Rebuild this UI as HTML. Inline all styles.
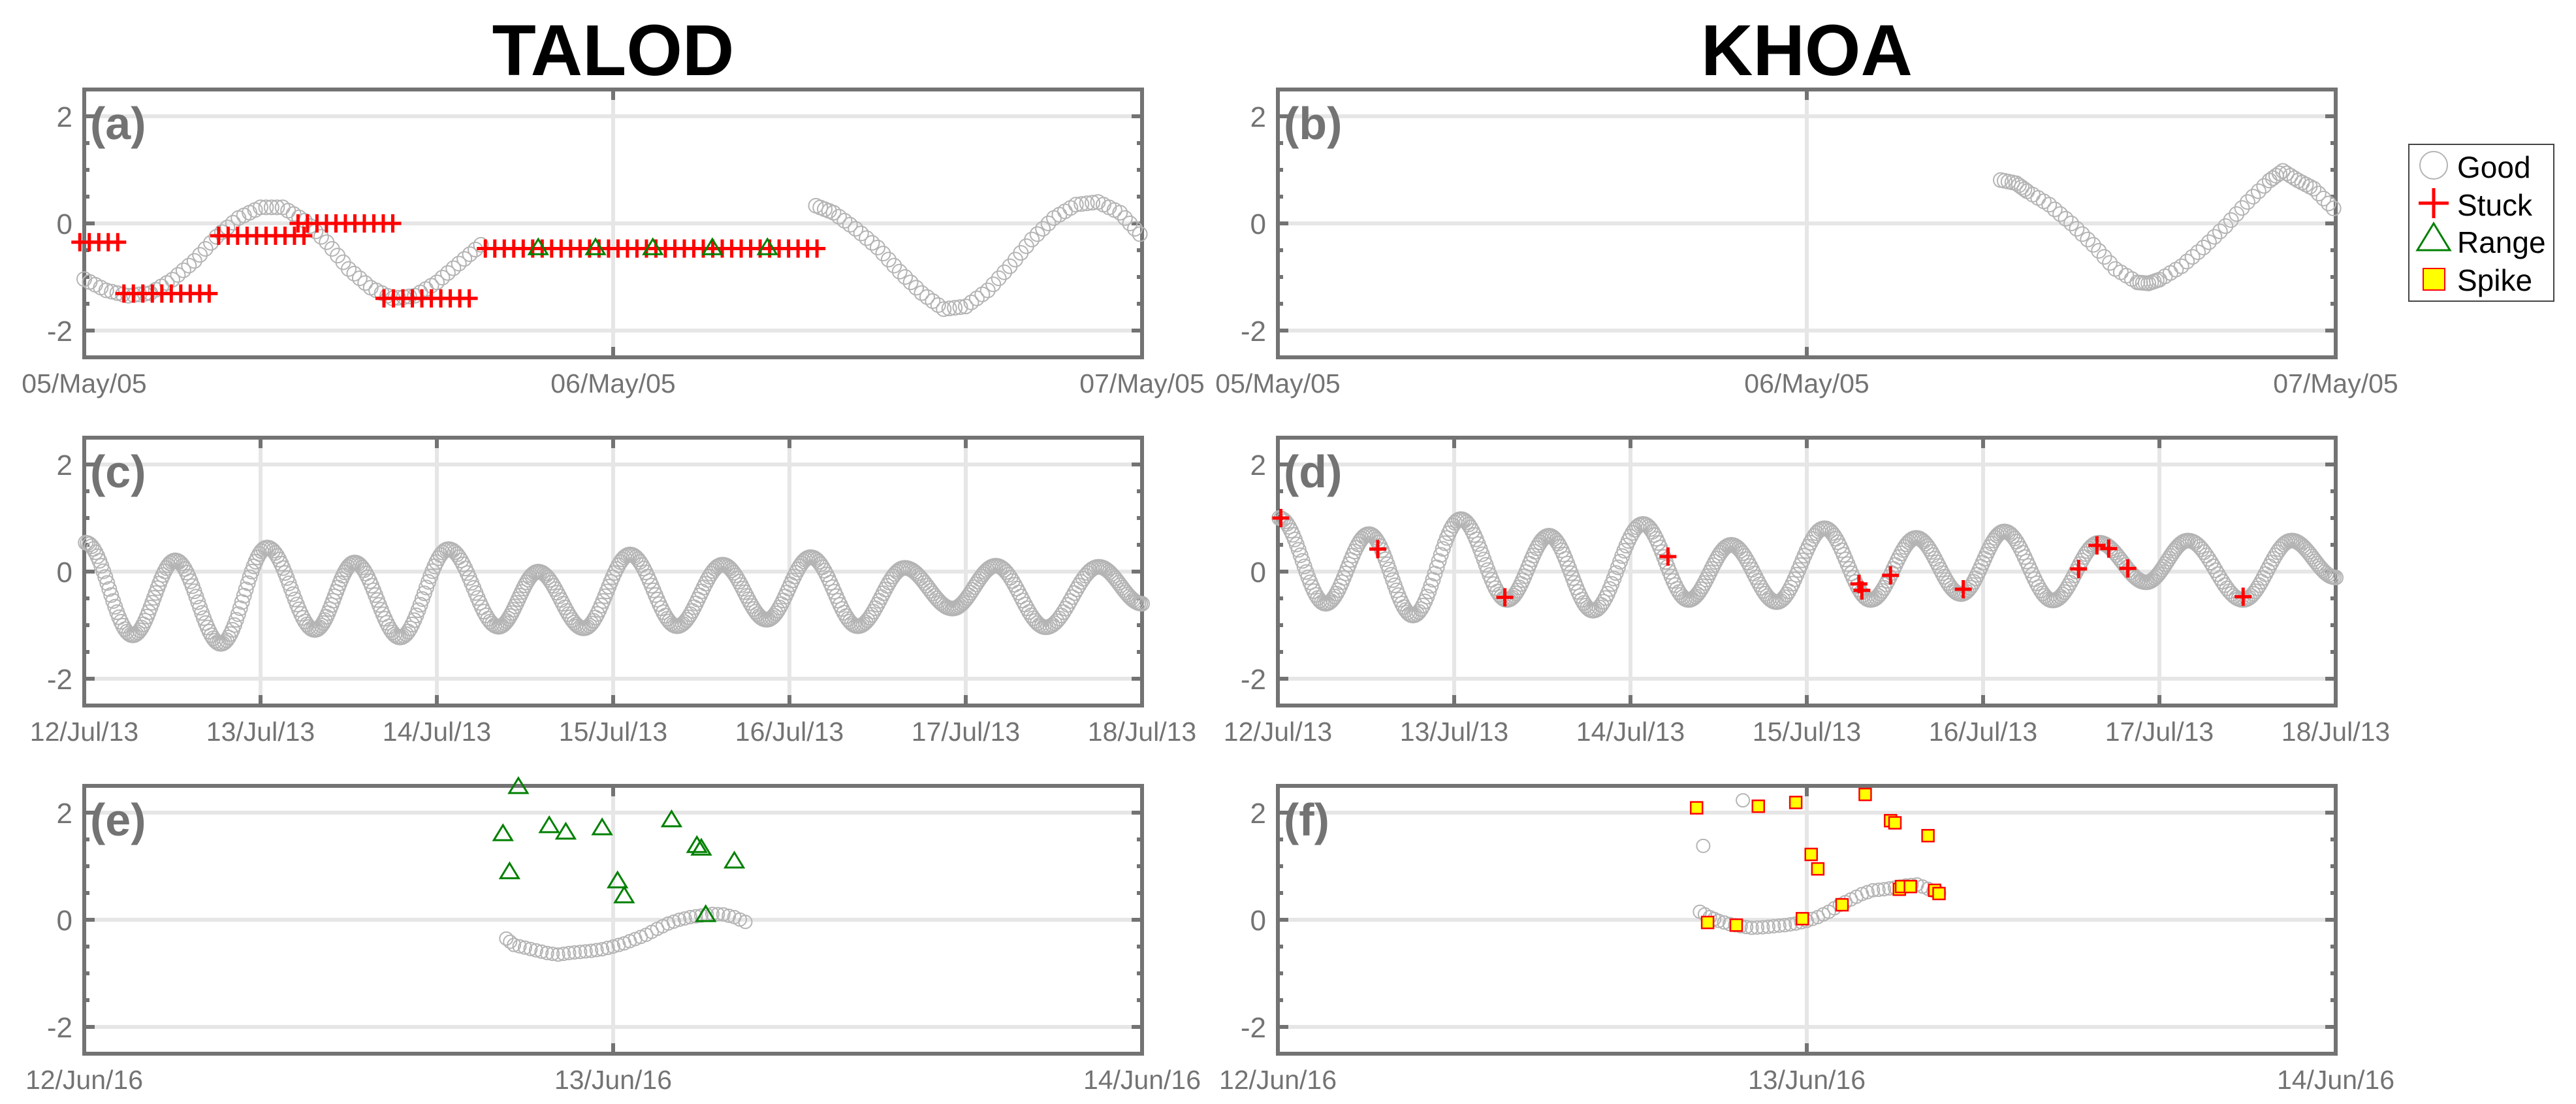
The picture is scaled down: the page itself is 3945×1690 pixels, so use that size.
<!DOCTYPE html>
<html><head><meta charset="utf-8"><style>
html,body{margin:0;padding:0;background:#fff;}
svg{display:block;font-family:"Liberation Sans",Arial,sans-serif;}
</style></head><body>
<svg id="fig" width="3945" height="1690" viewBox="0 0 3945 1690" xmlns="http://www.w3.org/2000/svg">
<text x="939" y="115" font-size="110" font-weight="bold" text-anchor="middle" fill="#000">TALOD</text>
<text x="2767" y="115" font-size="110" font-weight="bold" text-anchor="middle" fill="#000">KHOA</text>
<g id="layer"></g>
<g>
<rect x="3689" y="221" width="222" height="240" fill="#fff" stroke="#444" stroke-width="2"/>
<circle cx="3727" cy="253" r="21" fill="none" stroke="#b4b4b4" stroke-width="2"/>
<text x="3763" y="272" font-size="46">Good</text>
<path d="M3704 311H3750M3727 288V334" stroke="#ff0000" stroke-width="5"/>
<text x="3763" y="330" font-size="46">Stuck</text>
<path d="M3727 342L3752 383H3702Z" fill="none" stroke="#008000" stroke-width="3"/>
<text x="3763" y="387" font-size="46">Range</text>
<rect x="3711" y="411" width="33" height="33" fill="#ffff00" stroke="#ff0000" stroke-width="2"/>
<text x="3763" y="445" font-size="46">Spike</text>
</g>
</svg>
<script>
// ---- data ----
const ticksA = ["05/May/05","06/May/05","07/May/05"];
const ticksC = ["12/Jul/13","13/Jul/13","14/Jul/13","15/Jul/13","16/Jul/13","17/Jul/13","18/Jul/13"];
const ticksE = ["12/Jun/16","13/Jun/16","14/Jun/16"];
const yTicks = [2,0,-2];

const aGood1H = [0,1,2,3,4,5,6,7,8,9,10,11,12,13,14,15,16,17,18];
const aGood1V = [-1.04,-1.25,-1.35,-1.3,-1.05,-0.7,-0.25,0.1,0.3,0.3,0.05,-0.35,-0.85,-1.2,-1.4,-1.35,-1.1,-0.75,-0.4];
const aGood2H = [33.2,34,35,36,37,38,39,40,41,42,43,44,45,46,47,47.9];
const aGood2V = [0.33,0.2,-0.1,-0.45,-0.9,-1.3,-1.6,-1.55,-1.25,-0.8,-0.3,0.1,0.35,0.4,0.2,-0.2];
const aStuckStart = [-0.2,1.8,6.1,9.7,13.6,18.2];
const aStuckEnd = [1.8,6.0,10.0,14.0,17.5,33.4];
const aStuckLevel = [-0.35,-1.31,-0.23,0.0,-1.40,-0.47];
const aRangeH = [20.6,23.2,25.8,28.5,31.0];
const aRangeV = [-0.44,-0.44,-0.44,-0.44,-0.44];

const bGoodH = [32.8,33.5,34,35,36,37,38,39,39.5,40,41,42,43,44,45,45.6,46.3,47,47.9];
const bGoodV = [0.81,0.75,0.6,0.35,0.0,-0.4,-0.85,-1.1,-1.12,-1.05,-0.8,-0.45,-0.05,0.4,0.8,0.98,0.8,0.65,0.28];

const cExtH = [0.2,6.6,12.4,18.6,24.9,31.4,36.8,43.0,49.6,56.4,61.8,68.0,74.3,80.7,86.9,92.9,98.9,105.3,111.7,118.2,124.1,130.9,138.1,144];
const cExtV = [0.54,-1.19,0.21,-1.35,0.45,-1.09,0.17,-1.23,0.42,-1.03,0.0,-1.06,0.32,-1.02,0.13,-0.9,0.27,-1.02,0.07,-0.69,0.11,-1.04,0.09,-0.6];

const dExtH = [0.2,6.5,12.4,18.4,24.9,31.2,36.9,42.9,49.7,55.9,61.7,67.9,74.4,80.7,86.9,93.0,98.9,105.5,111.8,118.2,123.9,131.4,138.0,144];
const dExtV = [1.0,-0.6,0.7,-0.82,0.98,-0.53,0.67,-0.73,0.89,-0.53,0.5,-0.57,0.81,-0.53,0.63,-0.42,0.75,-0.54,0.54,-0.2,0.58,-0.53,0.58,-0.11];
const dStuckH = [0.4,13.6,30.9,53.1,79.1,79.5,83.4,93.3,109.0,111.5,113.1,115.7,131.4];
const dStuckV = [1.0,0.42,-0.48,0.28,-0.23,-0.35,-0.07,-0.33,0.05,0.49,0.43,0.06,-0.47];

const eGoodH = [19.15,19.5,20,20.5,21,21.5,22,22.5,23,23.5,24,24.5,25,25.5,26,26.5,27,27.5,28,28.5,29,29.5,30];
const eGoodV = [-0.35,-0.47,-0.52,-0.57,-0.62,-0.65,-0.62,-0.6,-0.58,-0.55,-0.5,-0.44,-0.36,-0.28,-0.17,-0.07,0.0,0.05,0.08,0.11,0.1,0.05,-0.04];
const eRangeH = [19.7,19.0,19.3,21.1,21.85,23.5,24.2,24.5,26.65,27.8,28.0,29.5,28.2];
const eRangeV = [2.5,1.62,0.91,1.77,1.65,1.73,0.74,0.46,1.88,1.40,1.35,1.11,0.11];

const fGoodH = [19.15,19.6,20,20.5,21,21.5,22,22.5,23,23.5,24,24.5,25,25.5,26,26.5,27,27.5,28,28.5,29,29.5,30];
const fGoodV = [0.15,0.05,-0.02,-0.08,-0.12,-0.15,-0.14,-0.12,-0.1,-0.07,-0.02,0.05,0.15,0.28,0.38,0.48,0.55,0.57,0.6,0.64,0.66,0.58,0.5];
const fOutH = [21.1,19.3];
const fOutV = [2.23,1.38];
const fSpikeH = [19.0,21.8,23.5,26.65,27.8,28.0,29.5,24.2,24.5,19.5,20.8,23.8,25.6,28.2,28.3,28.7,29.8,30.0];
const fSpikeV = [2.09,2.12,2.19,2.34,1.85,1.81,1.57,1.22,0.95,-0.05,-0.1,0.02,0.28,0.57,0.62,0.62,0.55,0.49];

// ---- rendering ----
const NS = "http://www.w3.org/2000/svg";
const layer = document.getElementById('layer');
const W = 1620, UNIT = 82, GRAY = "#737373";
function mk(tag, attrs, parent){const e=document.createElementNS(NS,tag);for(const k in attrs)e.setAttribute(k,attrs[k]);(parent||layer).appendChild(e);return e;}
function panel(name, col, row, span, ticks){return {name, left: col===0?129:1957, row, span, ticks, y0: 342+533*row};}
function X(p,h){return p.left + h/p.span*W;}
function Y(p,v){return p.y0 - v*UNIT;}

function drawAxes(p, label){
  const g = mk('g',{});
  
  
  const top=Y(p,2.5), bot=Y(p,-2.5), right=p.left+W;
  const step = p.span/(p.ticks.length-1);
  yTicks.forEach(v=>{const l=mk('line',{x1:p.left,x2:right,y1:Y(p,v),y2:Y(p,v),stroke:"#e6e6e6","stroke-width":6},g);
    
    });
  p.ticks.forEach((t,i)=>{const x=X(p,i*step);
    if(i>0&&i<p.ticks.length-1){const l=mk('line',{x1:x,x2:x,y1:top,y2:bot,stroke:"#e6e6e6","stroke-width":6},g);
      
      
      mk('line',{x1:x,x2:x,y1:top,y2:top+16,stroke:GRAY,"stroke-width":6},g);
      mk('line',{x1:x,x2:x,y1:bot,y2:bot-16,stroke:GRAY,"stroke-width":6},g);}
    const tx=mk('text',{x:x,y:bot+54,"font-size":41,"text-anchor":"middle",fill:GRAY},g);
    
    
    tx.textContent=t;});
  for(let v=-2;v<=2.001;v+=0.5){const y=Y(p,v);const len=(Math.abs(v)%2===0)?16:8;
    mk('line',{x1:p.left,x2:p.left+len,y1:y,y2:y,stroke:GRAY,"stroke-width":6},g);
    mk('line',{x1:right,x2:right-len,y1:y,y2:y,stroke:GRAY,"stroke-width":6},g);}
  yTicks.forEach(v=>{const tx=mk('text',{x:p.left-18,y:Y(p,v)+16,"font-size":44,"text-anchor":"end",fill:GRAY},g);
    
    
    tx.textContent=String(v);});
  const r=mk('rect',{x:p.left,y:top,width:W,height:bot-top,fill:"none",stroke:GRAY,"stroke-width":6},g);
  
  
  const lb=mk('text',{x:p.left+9,y:top+76,"font-size":70,"font-weight":"bold",fill:GRAY},g);
  
  
  lb.textContent=label;
}
function circle(p,h,v,r){const c=mk('circle',{cx:X(p,h),cy:Y(p,v),r:r||10,fill:"none",stroke:"#b4b4b4","stroke-width":2});
  
  }
function goodSeries(p,H,V,n,cosine,r){
  for(let i=0;i<H.length-1;i++){for(let k=0;k<n;k++){const t=k/n;const f=cosine?(1-Math.cos(Math.PI*t))/2:t;
    circle(p,H[i]+(H[i+1]-H[i])*t,V[i]+(V[i+1]-V[i])*f,r);}}
  circle(p,H[H.length-1],V[V.length-1],r);
}
function cross(p,h,v){const x=X(p,h),y=Y(p,v);
  const c=mk('path',{d:`M${x-13} ${y}H${x+13}M${x} ${y-14}V${y+14}`,stroke:"#ff0000","stroke-width":5});
  
  }
function tri(p,h,v){const x=X(p,h),y=Y(p,v);
  const t=mk('path',{d:`M${x} ${y-12}L${x+14} ${y+11}H${x-14}Z`,fill:"none",stroke:"#008000","stroke-width":3});
  
  }
function square(p,h,v){const x=X(p,h),y=Y(p,v);
  const s=mk('rect',{x:x-9,y:y-9,width:18,height:18,fill:"#ffff00",stroke:"#ff0000","stroke-width":2.5});
  
  }

const pA=panel('a',0,0,48,ticksA), pB=panel('b',1,0,48,ticksA);
const pC=panel('c',0,1,144,ticksC), pD=panel('d',1,1,144,ticksC);
const pE=panel('e',0,2,48,ticksE), pF=panel('f',1,2,48,ticksE);
drawAxes(pA,'(a)');drawAxes(pB,'(b)');drawAxes(pC,'(c)');drawAxes(pD,'(d)');drawAxes(pE,'(e)');drawAxes(pF,'(f)');

goodSeries(pA,aGood1H,aGood1V,4,false,11);
goodSeries(pA,aGood2H,aGood2V,4,false,11);
aStuckStart.forEach((s,i)=>{for(let h=s;h<=aStuckEnd[i]+0.001;h+=0.43)cross(pA,h,aStuckLevel[i]);});
aRangeH.forEach((h,i)=>tri(pA,h,aRangeV[i]));

goodSeries(pB,bGoodH,bGoodV,4,false,11);

goodSeries(pC,cExtH,cExtV,24,true,11);
goodSeries(pD,dExtH,dExtV,24,true,11);
dStuckH.forEach((h,i)=>cross(pD,h,dStuckV[i]));

goodSeries(pE,eGoodH,eGoodV,2,false,10);
eRangeH.forEach((h,i)=>tri(pE,h,eRangeV[i]));

goodSeries(pF,fGoodH,fGoodV,2,false,10);
fOutH.forEach((h,i)=>circle(pF,h,fOutV[i],10));
fSpikeH.forEach((h,i)=>square(pF,h,fSpikeV[i]));
</script>
</body></html>
